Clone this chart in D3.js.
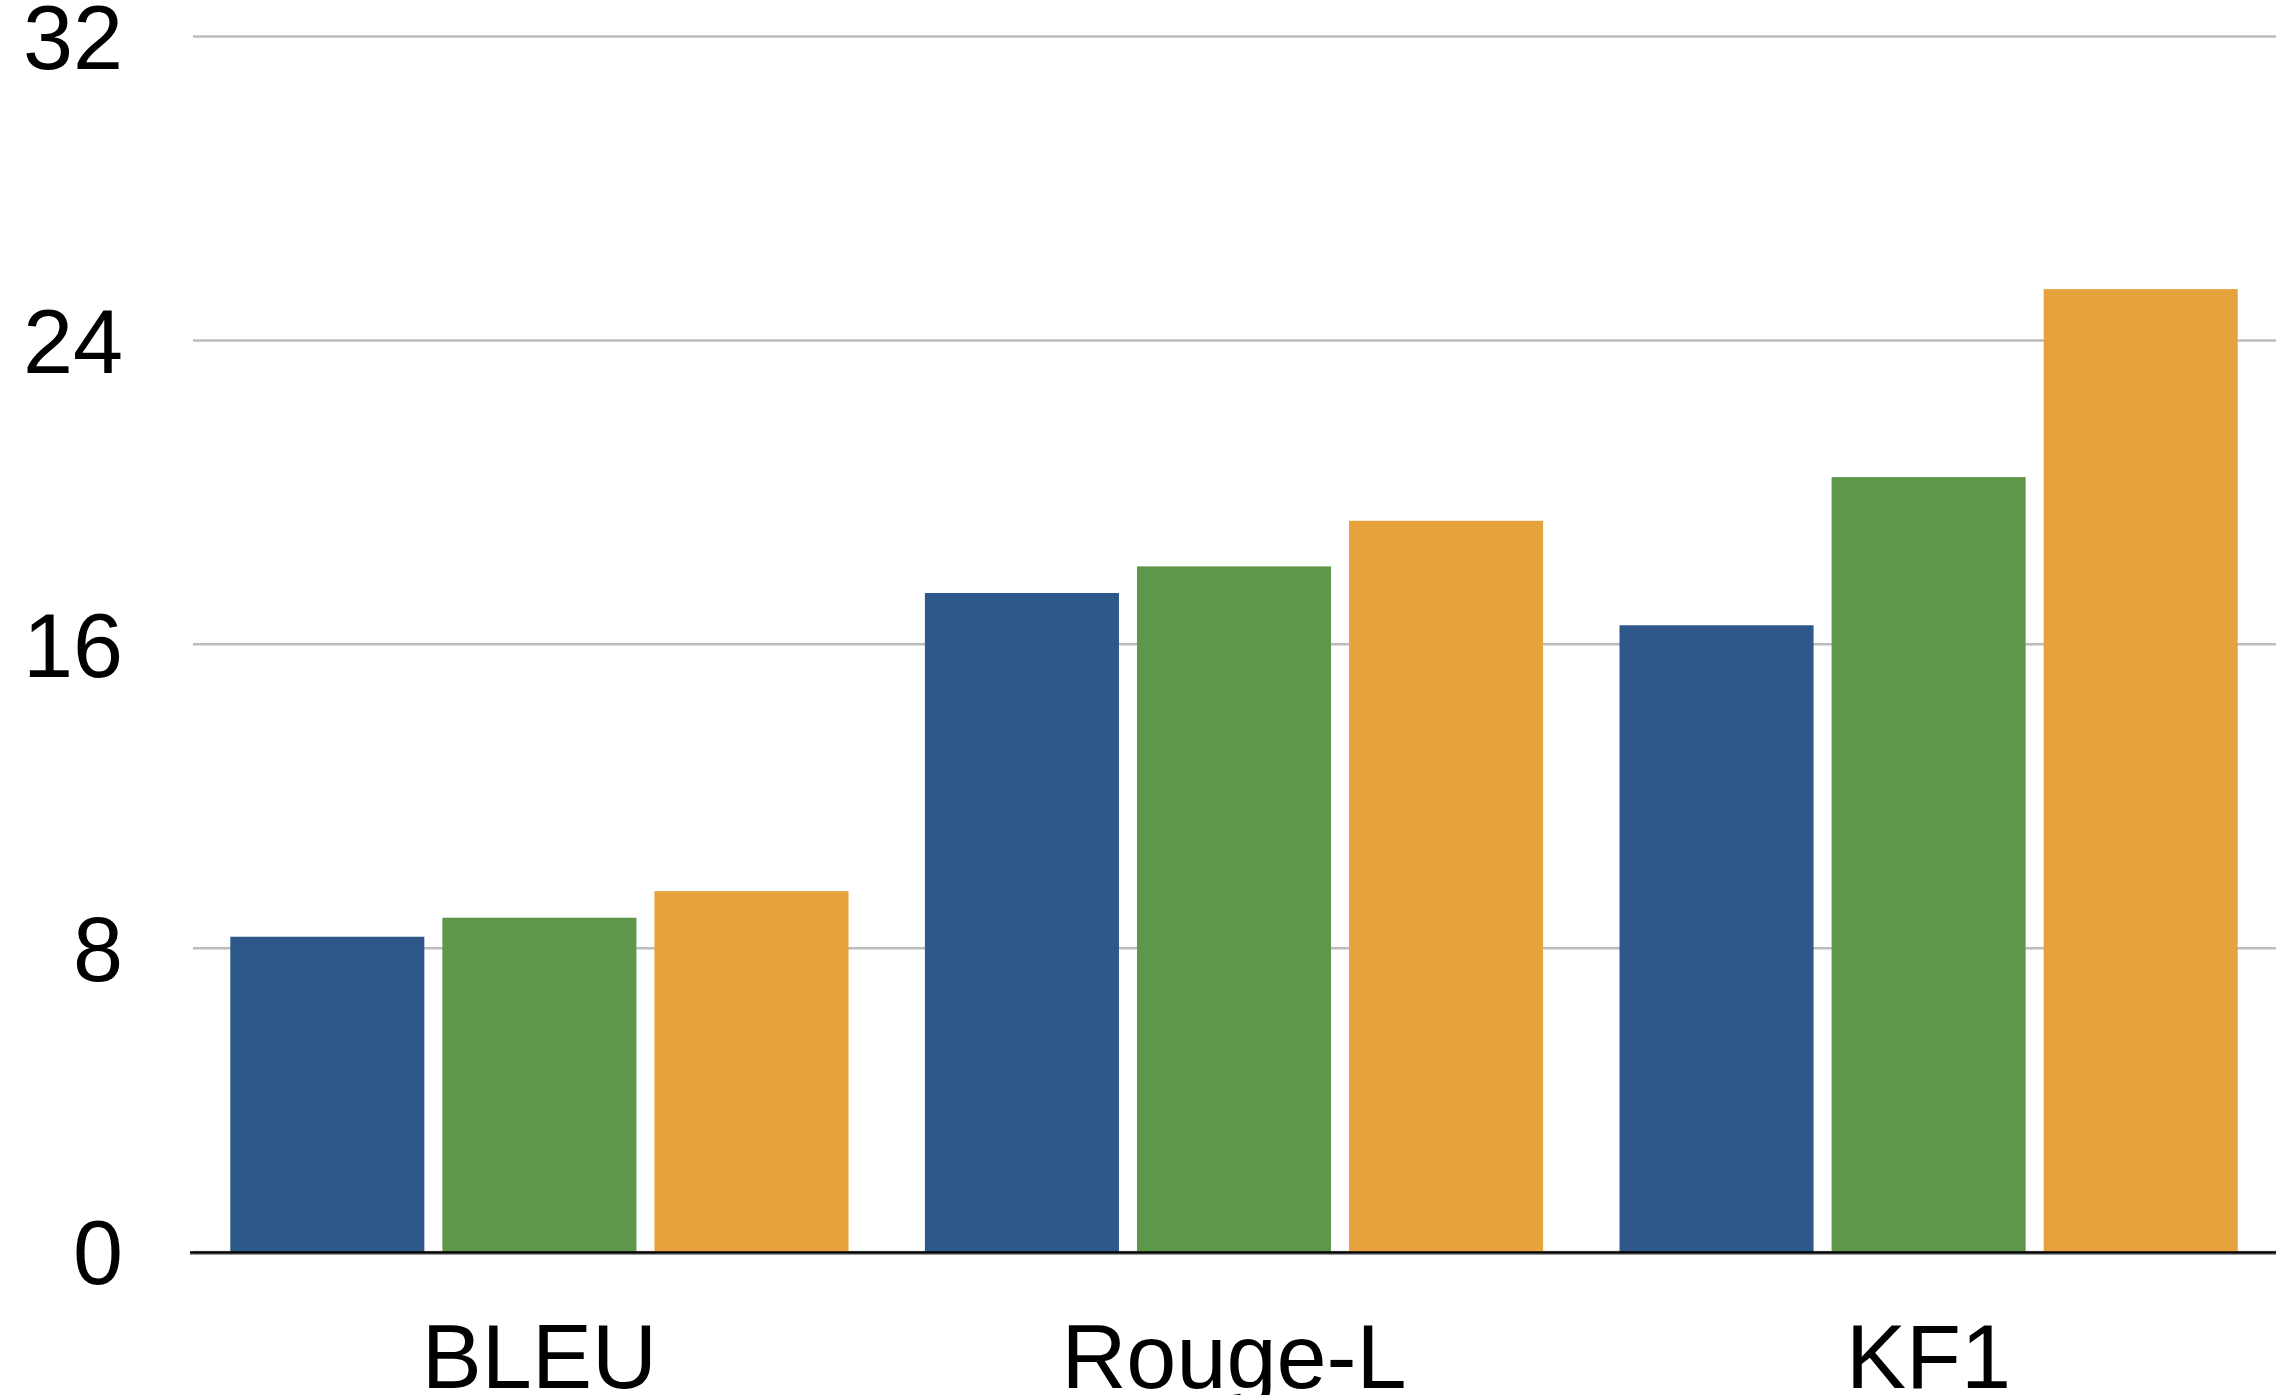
<!DOCTYPE html>
<html>
<head>
<meta charset="utf-8">
<script src="https://cdn.jsdelivr.net/npm/d3@7"></script>
<style>
  body { margin: 0; background: #ffffff; }
  svg { display: block; }
  text { font-family: "Liberation Sans", Arial, Helvetica, sans-serif; fill: #000; }
</style>
</head>
<body>
<svg width="2276" height="1395"></svg>
<script>
// metrics on the x axis
var categories = ["BLEU", "Rouge-L", "KF1"];
// three systems, one bar each per metric
var seriesNames = ["s1", "s2", "s3"];
var seriesA = [8.3, 17.35, 16.5];
var seriesB = [8.8, 18.05, 20.4];
var seriesC = [9.5, 19.25, 25.35];
var yTicks = [0, 8, 16, 24, 32];

var colors = ["#2e588a", "#5e964a", "#e6a23d"];

var svg = d3.select("svg"),
    width = +svg.attr("width"),
    height = +svg.attr("height");

// note: "top" is taken by window.top, so use plot* names
var plotLeft = 190, plotRight = 2278, plotTop = 36.5, plotBottom = 1252;

var x = d3.scaleBand()
    .domain(categories)
    .range([plotLeft, plotRight])
    .paddingInner(0.11)
    .paddingOuter(0.058);

var xInner = d3.scaleBand()
    .domain(seriesNames)
    .range([0, x.bandwidth()])
    .paddingInner(0.085);

var y = d3.scaleLinear()
    .domain([0, 32])
    .range([plotBottom, plotTop]);

var color = d3.scaleOrdinal().domain(seriesNames).range(colors);

// gridlines
svg.append("g")
    .selectAll("line")
    .data(yTicks)
    .enter().append("line")
    .attr("x1", plotLeft + 3)
    .attr("x2", width)
    .attr("y1", function(d) { return y(d); })
    .attr("y2", function(d) { return y(d); })
    .style("stroke", "#bcbcbc")
    .style("stroke-width", 2.5);

// y tick labels
svg.append("g")
    .selectAll("text")
    .data(yTicks)
    .enter().append("text")
    .attr("x", 123)
    .attr("y", function(d) { return y(d); })
    .attr("dy", "0.36em")
    .attr("text-anchor", "end")
    .style("font-size", "90px")
    .text(function(d) { return d; });

// bars
var rows = categories.map(function(c, i) {
    return { cat: c, values: [seriesA[i], seriesB[i], seriesC[i]] };
});

var group = svg.append("g")
    .selectAll("g")
    .data(rows)
    .enter().append("g")
    .attr("transform", function(d) { return "translate(" + x(d.cat) + ",0)"; });

group.selectAll("rect")
    .data(function(d) {
        return d.values.map(function(v, j) { return { key: seriesNames[j], value: v }; });
    })
    .enter().append("rect")
    .attr("x", function(d) { return xInner(d.key); })
    .attr("width", xInner.bandwidth())
    .attr("y", function(d) { return y(d.value); })
    .attr("height", function(d) { return y(0) - y(d.value); })
    .attr("fill", function(d) { return color(d.key); });

// baseline axis
svg.append("line")
    .attr("x1", plotLeft).attr("x2", width)
    .attr("y1", y(0) + 2.5).attr("y2", y(0) + 2.5)
    .style("stroke", "#999").style("stroke-width", 1.2);
svg.append("line")
    .attr("x1", plotLeft).attr("x2", width)
    .attr("y1", y(0) + 0.5).attr("y2", y(0) + 0.5)
    .style("stroke", "#000").style("stroke-width", 2.5);

// category labels
svg.append("g")
    .selectAll("text")
    .data(categories)
    .enter().append("text")
    .attr("x", function(d) { return x(d) + x.bandwidth() / 2; })
    .attr("y", 1388)
    .attr("text-anchor", "middle")
    .style("font-size", "90px")
    .text(function(d) { return d; });
</script>
</body>
</html>
